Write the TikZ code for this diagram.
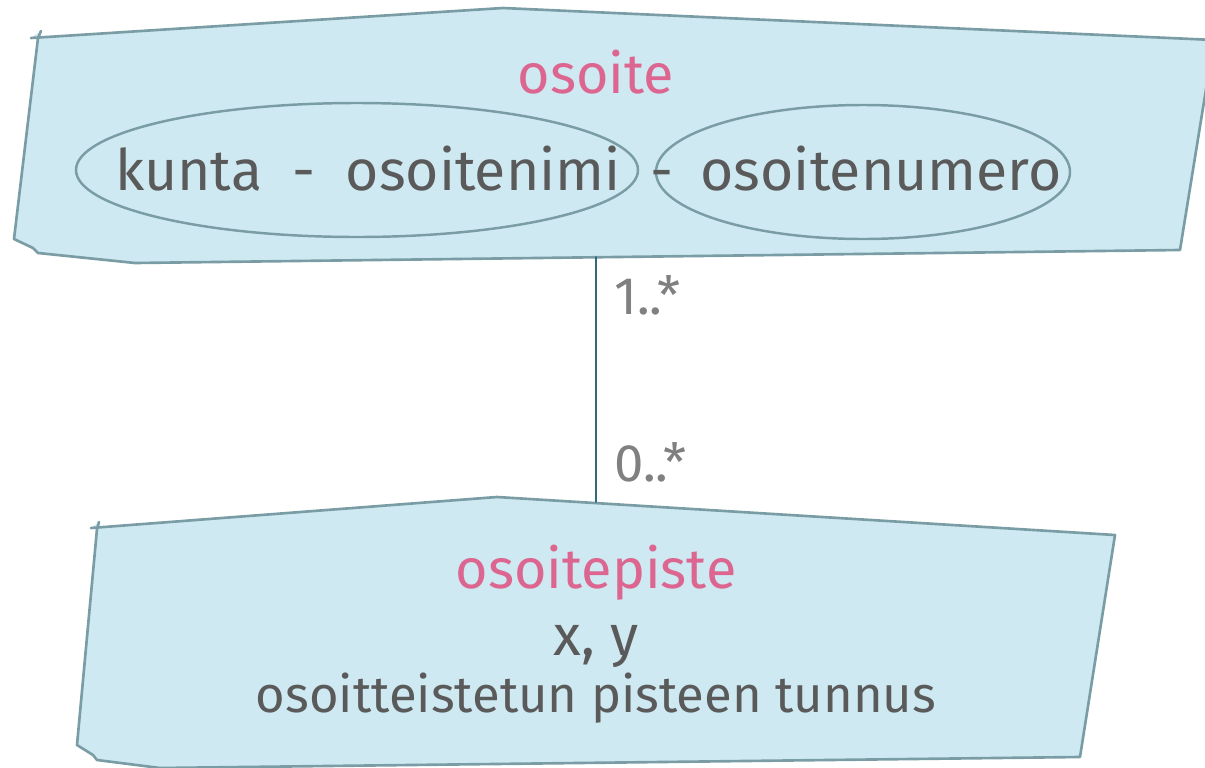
\documentclass[tikz,border=0pt]{standalone}
\usepackage{fontspec}
\setmainfont{Fira Sans}
\definecolor{laatikko}{HTML}{CEE9F1}
\definecolor{reuna}{HTML}{7A9CA4}
\definecolor{nimi}{HTML}{DC6690}
\definecolor{teksti}{HTML}{5A5A5A}
\definecolor{kerroin}{HTML}{808080}
\definecolor{viiva}{HTML}{2F6B78}
\tikzset{alue/.style={fill=laatikko,draw=reuna,line width=1.5pt,line join=round},
  soikio/.style={draw=reuna,line width=1.4pt},
  otsikko/.style={text=nimi,font=\fontsize{31.7}{38}\selectfont,anchor=base},
  rivi/.style={text=teksti,font=\fontsize{32.5}{39}\selectfont,anchor=base},
  pieni/.style={text=teksti,font=\fontsize{28.9}{34}\selectfont,anchor=base},
  kerr/.style={text=kerroin,font=\fontsize{30}{36}\selectfont,anchor=base west}}
\begin{document}
\begin{tikzpicture}[x=0.02cm,y=-0.02cm,line cap=round]
\useasboundingbox (0,0) rectangle (1205,768);
% osoite
\draw[alue] (41,31)--(38,38)--(14,239)--(33,248)--(38,253)--(135,263)--(1180,250)--(1214,40)--(503,8)--(31,38);
\draw[soikio] (357,170) ellipse (281 and 67);
\draw[soikio] (863,172) ellipse (207 and 67);
\node[otsikko] (osoite) at (596,93) {osoite};
\node[rivi] (kunta) at (368,190) {kunta\ \ -\ \ osoitenimi};
\node[rivi] (viiva1) at (662,190) {-};
\node[rivi] (numero) at (881,190) {osoitenumero};
% osoitepiste
\draw[alue] (99,522)--(97,529)--(77,745)--(93,755)--(97,760)--(160,768)--(1080,757)--(1115,535)--(497,497)--(91,528);
\node[otsikko] (piste) at (596,588) {osoitepiste};
\node[rivi] (xy) at (596,655) {x, y};
\node[pieni] (tunnus) at (596,712) {osoitteistetun pisteen tunnus};
% yhteys
\coordinate (ylos) at (596,257);
\coordinate (alas) at (596,502);
\draw[viiva,line width=0.8pt] (ylos)--(alas);
\node[kerr] (k1) at (608,314) {1..*};
\node[kerr] (k2) at (608,481) {0..*};
\end{tikzpicture}
\end{document}
